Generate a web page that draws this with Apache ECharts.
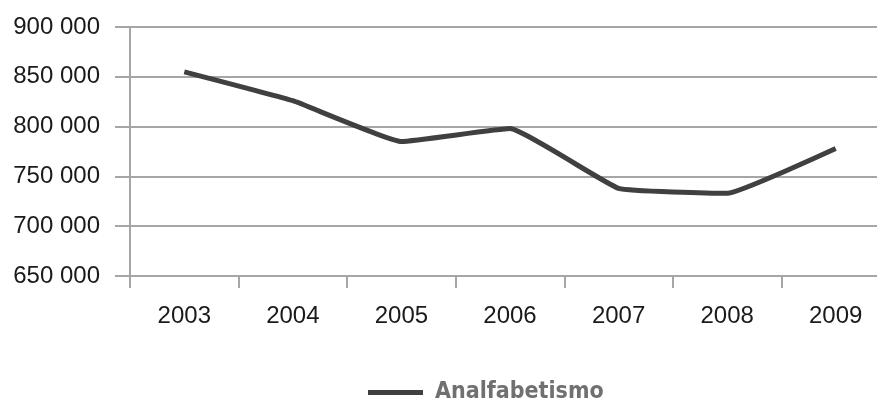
<!DOCTYPE html>
<html>
<head>
<meta charset="utf-8">
<script src="https://cdn.jsdelivr.net/npm/echarts@6/dist/echarts.min.js"></script>
<style>
  html, body { margin: 0; padding: 0; background: #fff; }
  #chart { width: 877px; height: 402px; }
</style>
</head>
<body>
<div id="chart"></div>
<script>
// data
var years = ['2003', '2004', '2005', '2006', '2007', '2008', '2009'];
var analfabetismo = [855000, 826000, 785000, 798000, 738000, 733000, 778000];
var seriesName = 'Analfabetismo';

var gridColor = '#a6a6a6';
var myChart = echarts.init(document.getElementById('chart'));

// format 850000 -> "850 000"
function spaced(v) {
  return String(v).replace(/\B(?=(\d{3})+(?!\d))/g, ' ');
}

var option = {
  animation: false,
  grid: { left: 130, top: 27, width: 760, bottom: 126, outerBoundsMode: 'none' },
  legend: {
    data: [seriesName],
    left: 368,
    top: 381,
    padding: 0,
    icon: 'rect',
    itemWidth: 55,
    itemHeight: 5,
    itemGap: 12,
    textStyle: {
      color: '#707070',
      fontFamily: '"Liberation Sans Narrow", "DejaVu Sans Condensed", sans-serif',
      fontWeight: 'bold',
      fontSize: 23,
      padding: [0, 0, 0, 7]
    }
  },
  xAxis: {
    type: 'category',
    data: years,
    boundaryGap: true,
    axisLine: { show: true, lineStyle: { color: gridColor, width: 2 } },
    axisTick: { show: true, length: 12, interval: 0, lineStyle: { color: gridColor, width: 2 } },
    axisLabel: {
      margin: 28,
      color: '#1a1a1a',
      fontSize: 24,
      fontFamily: '"Liberation Sans", Arial, sans-serif'
    },
    splitLine: { show: false }
  },
  yAxis: {
    type: 'value',
    min: 650000,
    max: 900000,
    interval: 50000,
    axisLine: { show: true, lineStyle: { color: gridColor, width: 2 } },
    axisTick: { show: true, length: 15, lineStyle: { color: gridColor, width: 2 } },
    axisLabel: {
      margin: 30,
      color: '#1a1a1a',
      fontSize: 24,
      fontFamily: '"Liberation Sans", Arial, sans-serif',
      formatter: spaced
    },
    splitLine: { show: true, lineStyle: { color: gridColor, width: 2 } }
  },
  series: [
    {
      name: seriesName,
      type: 'line',
      data: analfabetismo,
      smooth: 0.1,
      symbol: 'none',
      itemStyle: { color: '#404040' },
      lineStyle: { color: '#404040', width: 5 }
    }
  ]
};

myChart.setOption(option);
</script>
</body>
</html>
